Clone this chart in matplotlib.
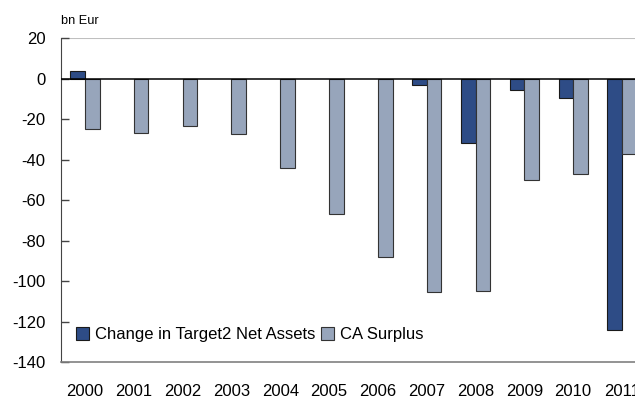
import matplotlib
matplotlib.use('Agg')
import matplotlib.pyplot as plt
import numpy as np

plt.rcParams['font.family'] = ['Liberation Sans', 'DejaVu Sans']
plt.rcParams['axes.unicode_minus'] = False

years = ['2000', '2001', '2002', '2003', '2004', '2005',
         '2006', '2007', '2008', '2009', '2010', '2011']
# no Target2 change shown for 2001-2006
target2 = [3.5, np.nan, np.nan, np.nan, np.nan, np.nan, np.nan,
           -3.2, -31.7, -5.7, -9.8, -124.2]
ca_surplus = [-25.1, -26.8, -23.4, -27.4, -44.2, -67.0,
              -88.2, -105.3, -104.8, -50.3, -47.3, -37.3]

dark = '#2E4C86'
light = '#97A5BB'

fig = plt.figure(figsize=(6.35, 4.01), dpi=100)
ax = fig.add_axes([60.6/635, 39/401, (646.4-60.6)/635, 324/401])

x = np.arange(len(years))
w = 0.3
ax.bar(x - w/2, target2, w, color=dark, edgecolor='#1a1a1a', lw=0.8,
       label='Change in Target2 Net Assets')
ax.bar(x + w/2, ca_surplus, w, color=light, edgecolor='#333333', lw=0.8,
       label='CA Surplus')

ax.set_xlim(-0.5, len(years) - 0.5)
ax.set_ylim(-140, 20)
ax.set_yticks(np.arange(-140, 21, 20))
ax.set_xticks(x)
ax.set_xticklabels(years)
ax.tick_params(axis='x', length=0, pad=16, labelsize=12)
ax.tick_params(axis='y', direction='in', length=6, width=1, color='#444444',
               labelsize=12, pad=11)

ax.axhline(0, color='black', lw=1.1, zorder=3)
ax.axhline(20, color='#bfbfbf', lw=1.5, zorder=1)
for s in ['top', 'right']:
    ax.spines[s].set_visible(False)
ax.spines['left'].set_color('#444444')
ax.spines['bottom'].set_color('#808080')
ax.spines['bottom'].set_linewidth(1.2)

ax.text(0.0, 1.035, 'bn Eur', transform=ax.transAxes, fontsize=9.2,
        ha='left', va='bottom')

ax.legend(loc='lower left', bbox_to_anchor=(0.015, 0.04), ncol=2,
          frameon=False, fontsize=12, handlelength=0.8, handleheight=0.8,
          handletextpad=0.35, columnspacing=0.3, borderaxespad=0)

fig.savefig('out.png', dpi=100)
